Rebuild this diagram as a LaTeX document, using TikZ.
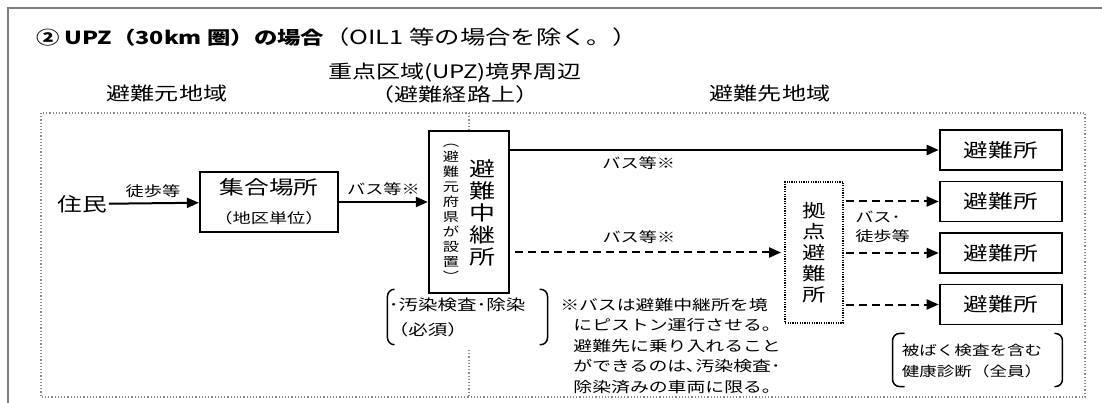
\documentclass[tikz,border=0pt]{standalone}
\usepackage{fontspec}
\setmainfont{Noto Sans CJK JP}
\usepackage{xcolor}
\usepackage{tikz}
\usetikzlibrary{arrows.meta}
\usetikzlibrary{calc}
\definecolor{framegray}{HTML}{7F7F7F}
\definecolor{zonegray}{HTML}{8A8A8A}
\newcommand{\fsz}[2]{\fontsize{#1}{#2}\selectfont}

\begin{document}
\begin{tikzpicture}[x=1pt,y=-1pt,
    lbl/.style={xscale=1.3,inner sep=0pt},
    box/.style={lbl,draw,line width=1.8pt},
    hubbox/.style={lbl,draw,line width=1.4pt,dash pattern=on 1.2pt off 1.2pt},
    arr/.style={line width=2pt,-{Triangle[length=12pt,width=10pt]}},
    darr/.style={arr,dash pattern=on 8pt off 5pt},
    zone/.style={zonegray,line width=1.4pt,dash pattern=on 1.2pt off 2pt},
    brk/.style={line width=1.5pt,rounded corners=7pt}]
  \useasboundingbox (0,0) rectangle (1102,403);
  \draw[framegray,line width=2pt] (8,403) -- (8,8) -- (1102,8);
  \draw[zone] (41,113) rectangle (1085,397);
%% headings
  \node[lbl,anchor=west,font=\fsz{18}{20}] (title) at (36,37) {\bfseries ② UPZ（30km 圏）の場合\mdseries\fsz{19.5}{20}（OIL1 等の場合を除く。）};
  \node[lbl,font=\fsz{18.5}{20}] (upzedge) at (455,73) {重点区域(UPZ)境界周辺};
  \node[lbl,font=\fsz{18.5}{20}] (onroute) at (455,94) {（避難経路上）};
  \node[lbl,font=\fsz{18.5}{20}] (origin) at (167,94) {避難元地域};
  \node[lbl,font=\fsz{18.5}{20}] (dest) at (770,94) {避難先地域};
%% flow
  \node[lbl,font=\fsz{19}{20}] (resident) at (82,204) {住民};
  \node[box,minimum width=106,minimum height=60,align=center,font=\fsz{19}{29}] (assembly) at (269,202) {集合場所\\{\fsz{14}{17}（地区単位）}};
  \node[box,minimum width=61.5,minimum height=162] (relay) at (469,212) {};
  \node[lbl,align=center,font=\fsz{20}{22}] (relayname) at (482,213) {避\\難\\中\\継\\所};
  \node[lbl,align=center,font=\fsz{12.5}{15}] (relayby) at (451,213) {︵\\避\\難\\元\\府\\県\\が\\設\\置\\︶};
  \node[hubbox,minimum width=44.6,minimum height=141,align=center,font=\fsz{18}{21}] (hub) at (814,252.5) {拠\\点\\避\\難\\所};
  \foreach \y [count=\i] in {150,201.5,253,304.5}
    \node[box,minimum width=94,minimum height=40,font=\fsz{19}{20}] (shelter\i) at (1001,\y) {避難所};
  \draw[arr,shorten <=2pt] (resident) -- node[lbl,above=5pt,font=\fsz{14}{16}] {徒歩等} (assembly);
  \draw[arr] (assembly) -- node[lbl,above=5pt,font=\fsz{14}{16}] {バス等※} (relay.west |- assembly);
  \draw[arr] (relay.east |- shelter1) -- node[lbl,below=6pt,pos=0.3,font=\fsz{14}{16}] {バス等※} (shelter1);
  \draw[darr,shorten <=5pt,shorten >=3pt] (relay.east |- hub) -- node[lbl,above=8pt,pos=0.47,font=\fsz{14}{16}] {バス等※} (hub);
  \foreach \i in {2,3,4}
    \draw[darr,shorten <=2pt] (hub.east |- shelter\i) -- (shelter\i);
  \node[lbl,anchor=west,align=left,font=\fsz{14}{19}] (modes) at (855,227) {バス･\\徒歩等};
%% notes
  \node[lbl,align=left,font=\fsz{15}{25}] (decon) at (457,317) {･汚染検査･除染\\（必須）};
  \draw[brk] ($(decon.north west)+(6,-8)$) -- ($(decon.north west)+(-1,-8)$) -- ($(decon.south west)+(-1,8)$) -- ($(decon.south west)+(6,8)$);
  \draw[brk] ($(decon.north east)+(14,-8)$) -- ($(decon.north east)+(22,-8)$) -- ($(decon.south east)+(22,8)$) -- ($(decon.south east)+(14,8)$);
  \node[lbl,anchor=north west,align=left,font=\fsz{14.5}{20.5}] (busnote) at (560,298) {※バスは避難中継所を境\\\hspace*{0.7em}にピストン運行させる。\\\hspace*{0.7em}避難先に乗り入れること\\\hspace*{0.7em}ができるのは､汚染検査･\\\hspace*{0.7em}除染済みの車両に限る。};
  \node[lbl,align=left,font=\fsz{13.5}{21}] (checkup) at (972,360.5) {被ばく検査を含む\\健康診断（全員）};
  \draw[brk] ($(checkup.north west)+(3,-10)$) -- ($(checkup.north west)+(-9,-10)$) -- ($(checkup.south west)+(-9,9)$) -- ($(checkup.south west)+(3,9)$);
  \draw[brk] ($(checkup.north east)+(12,-10)$) -- ($(checkup.north east)+(20,-10)$) -- ($(checkup.south east)+(20,9)$) -- ($(checkup.south east)+(12,9)$);
%% zone divider
  \coordinate (divtop) at (469,113);
  \coordinate (divmid) at (469,350);
  \coordinate (divbot) at (469,397);
  \draw[zone] (divtop) -- (relay);
  \draw[zone] (divmid) -- (divbot);
\end{tikzpicture}
\end{document}
